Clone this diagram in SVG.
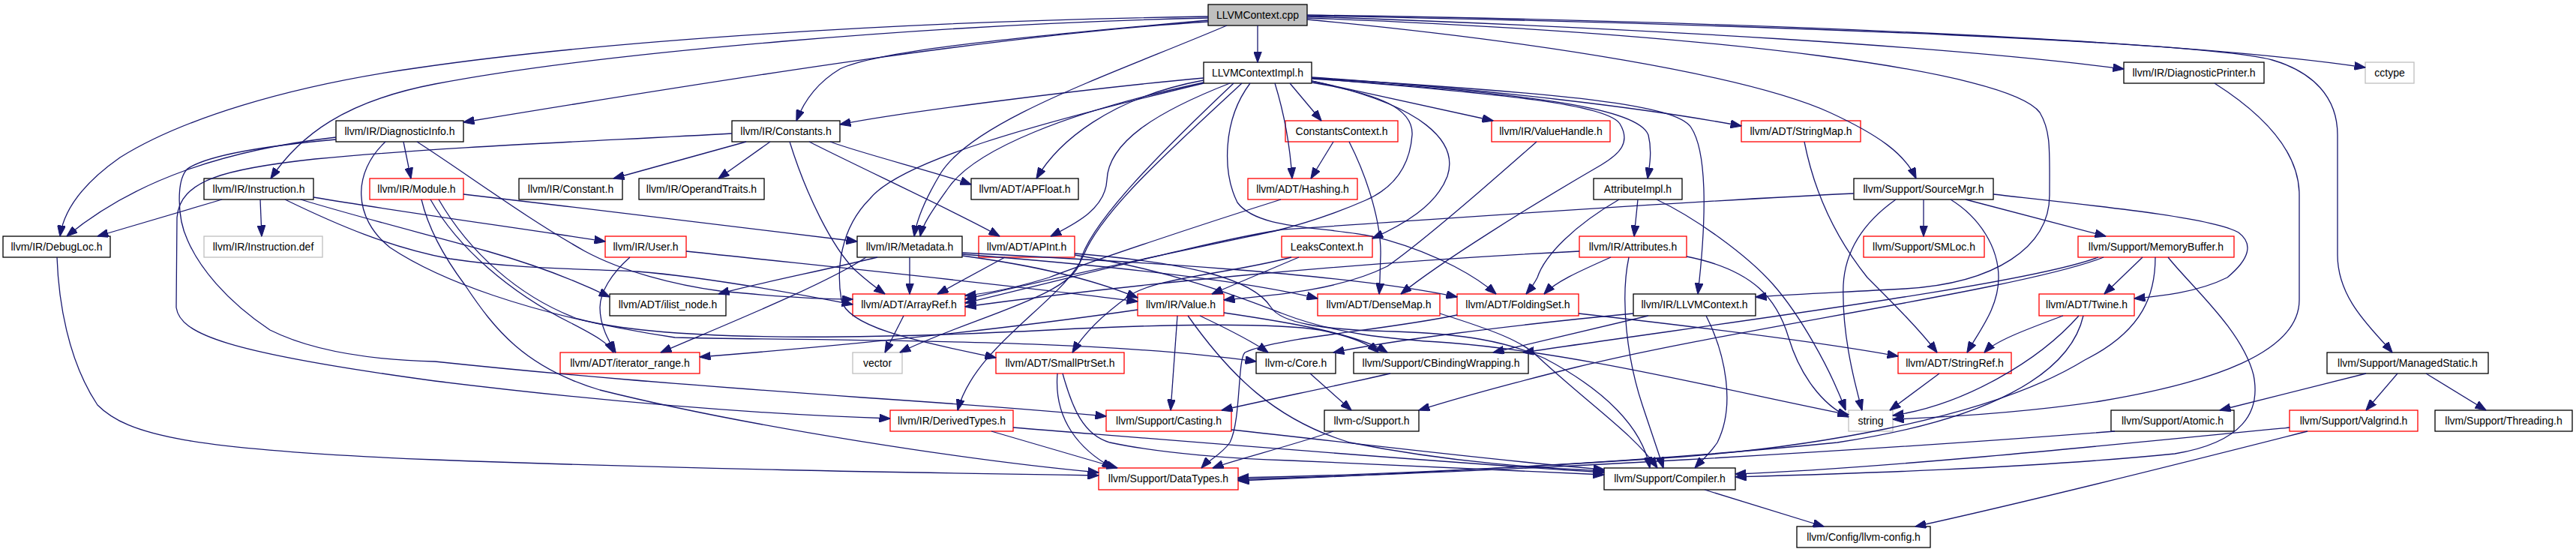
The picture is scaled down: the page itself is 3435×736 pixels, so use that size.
<svg xmlns="http://www.w3.org/2000/svg" width="3435" height="736" viewBox="0 0 3435 736">
<style>
.n rect{fill:#fff;stroke:#000;stroke-width:1.3}
.n.r rect{stroke:#f00}
.n.x rect{stroke:#bfbfbf}
.n.root rect{fill:#bfbfbf}
.n text{font-family:"Liberation Sans",Arial,Helvetica,sans-serif;font-size:14px;text-anchor:middle;fill:#000}
#edges path{fill:none;stroke:#191970;stroke-width:1.3;marker-end:url(#ah)}
</style>
<defs>
<marker id="ah" markerWidth="15" markerHeight="11" refX="14.5" refY="5.5" orient="auto" markerUnits="userSpaceOnUse"><path d="M0,0 L15,5.5 L0,11 z" fill="#191970" stroke="#191970" stroke-width="1"/></marker>
</defs>
<rect x="0" y="0" width="3435" height="736" fill="#fff"/>
<g id="nodes">
<g id="n1" class="n root"><rect x="1611" y="6" width="132" height="28"/><text x="1677" y="25">LLVMContext.cpp</text></g>
<g id="n2" class="n"><rect x="1605" y="83" width="144" height="28"/><text x="1677" y="102">LLVMContextImpl.h</text></g>
<g id="n3" class="n"><rect x="448" y="161" width="170" height="28"/><text x="533" y="180">llvm/IR/DiagnosticInfo.h</text></g>
<g id="n4" class="n"><rect x="976" y="161" width="144" height="28"/><text x="1048" y="180">llvm/IR/Constants.h</text></g>
<g id="n5" class="n r"><rect x="1714" y="161" width="150" height="28"/><text x="1789" y="180">ConstantsContext.h</text></g>
<g id="n6" class="n r"><rect x="1989" y="161" width="158" height="28"/><text x="2068" y="180">llvm/IR/ValueHandle.h</text></g>
<g id="n7" class="n r"><rect x="2322" y="161" width="159" height="28"/><text x="2401.5" y="180">llvm/ADT/StringMap.h</text></g>
<g id="n8" class="n"><rect x="2832" y="83" width="187" height="28"/><text x="2925.5" y="102">llvm/IR/DiagnosticPrinter.h</text></g>
<g id="n9" class="n x"><rect x="3154" y="83" width="65" height="28"/><text x="3186.5" y="102">cctype</text></g>
<g id="n10" class="n"><rect x="272" y="238" width="146" height="28"/><text x="345" y="257">llvm/IR/Instruction.h</text></g>
<g id="n11" class="n r"><rect x="493" y="238" width="125" height="28"/><text x="555.5" y="257">llvm/IR/Module.h</text></g>
<g id="n12" class="n"><rect x="692" y="238" width="138" height="28"/><text x="761" y="257">llvm/IR/Constant.h</text></g>
<g id="n13" class="n"><rect x="852" y="238" width="167" height="28"/><text x="935.5" y="257">llvm/IR/OperandTraits.h</text></g>
<g id="n14" class="n"><rect x="1295" y="238" width="143" height="28"/><text x="1366.5" y="257">llvm/ADT/APFloat.h</text></g>
<g id="n15" class="n r"><rect x="1664" y="238" width="146" height="28"/><text x="1737" y="257">llvm/ADT/Hashing.h</text></g>
<g id="n16" class="n"><rect x="2125" y="238" width="118" height="28"/><text x="2184" y="257">AttributeImpl.h</text></g>
<g id="n17" class="n"><rect x="2472" y="238" width="186" height="28"/><text x="2565" y="257">llvm/Support/SourceMgr.h</text></g>
<g id="n18" class="n"><rect x="4" y="315" width="143" height="28"/><text x="75.5" y="334">llvm/IR/DebugLoc.h</text></g>
<g id="n19" class="n x"><rect x="272" y="315" width="158" height="28"/><text x="351" y="334">llvm/IR/Instruction.def</text></g>
<g id="n20" class="n r"><rect x="807" y="315" width="108" height="28"/><text x="861" y="334">llvm/IR/User.h</text></g>
<g id="n21" class="n"><rect x="1143" y="315" width="140" height="28"/><text x="1213" y="334">llvm/IR/Metadata.h</text></g>
<g id="n22" class="n r"><rect x="1305" y="315" width="128" height="28"/><text x="1369" y="334">llvm/ADT/APInt.h</text></g>
<g id="n23" class="n r"><rect x="1709" y="315" width="121" height="28"/><text x="1769.5" y="334">LeaksContext.h</text></g>
<g id="n24" class="n r"><rect x="2106" y="315" width="143" height="28"/><text x="2177.5" y="334">llvm/IR/Attributes.h</text></g>
<g id="n25" class="n r"><rect x="2485" y="315" width="161" height="28"/><text x="2565.5" y="334">llvm/Support/SMLoc.h</text></g>
<g id="n26" class="n r"><rect x="2771" y="315" width="208" height="28"/><text x="2875" y="334">llvm/Support/MemoryBuffer.h</text></g>
<g id="n27" class="n"><rect x="813" y="392" width="155" height="29"/><text x="890.5" y="411">llvm/ADT/ilist_node.h</text></g>
<g id="n28" class="n r"><rect x="1137" y="392" width="150" height="29"/><text x="1212" y="411">llvm/ADT/ArrayRef.h</text></g>
<g id="n29" class="n r"><rect x="1517" y="392" width="115" height="29"/><text x="1574.5" y="411">llvm/IR/Value.h</text></g>
<g id="n30" class="n r"><rect x="1757" y="392" width="163" height="29"/><text x="1838.5" y="411">llvm/ADT/DenseMap.h</text></g>
<g id="n31" class="n r"><rect x="1943" y="392" width="162" height="29"/><text x="2024" y="411">llvm/ADT/FoldingSet.h</text></g>
<g id="n32" class="n"><rect x="2178" y="392" width="163" height="29"/><text x="2259.5" y="411">llvm/IR/LLVMContext.h</text></g>
<g id="n33" class="n r"><rect x="2719" y="392" width="127" height="29"/><text x="2782.5" y="411">llvm/ADT/Twine.h</text></g>
<g id="n34" class="n r"><rect x="747" y="470" width="186" height="28"/><text x="840" y="489">llvm/ADT/iterator_range.h</text></g>
<g id="n35" class="n x"><rect x="1137" y="470" width="66" height="28"/><text x="1170" y="489">vector</text></g>
<g id="n36" class="n r"><rect x="1328" y="470" width="171" height="28"/><text x="1413.5" y="489">llvm/ADT/SmallPtrSet.h</text></g>
<g id="n37" class="n"><rect x="1675" y="470" width="106" height="28"/><text x="1728" y="489">llvm-c/Core.h</text></g>
<g id="n38" class="n"><rect x="1805" y="470" width="233" height="28"/><text x="1921.5" y="489">llvm/Support/CBindingWrapping.h</text></g>
<g id="n39" class="n r"><rect x="2531" y="470" width="151" height="28"/><text x="2606.5" y="489">llvm/ADT/StringRef.h</text></g>
<g id="n40" class="n"><rect x="3103" y="470" width="215" height="28"/><text x="3210.5" y="489">llvm/Support/ManagedStatic.h</text></g>
<g id="n41" class="n r"><rect x="1187" y="547" width="164" height="28"/><text x="1269" y="566">llvm/IR/DerivedTypes.h</text></g>
<g id="n42" class="n r"><rect x="1475" y="547" width="167" height="28"/><text x="1558.5" y="566">llvm/Support/Casting.h</text></g>
<g id="n43" class="n"><rect x="1766" y="547" width="126" height="28"/><text x="1829" y="566">llvm-c/Support.h</text></g>
<g id="n44" class="n x"><rect x="2465" y="547" width="59" height="28"/><text x="2494.5" y="566">string</text></g>
<g id="n45" class="n"><rect x="2815" y="547" width="164" height="28"/><text x="2897" y="566">llvm/Support/Atomic.h</text></g>
<g id="n46" class="n r"><rect x="3053" y="547" width="171" height="28"/><text x="3138.5" y="566">llvm/Support/Valgrind.h</text></g>
<g id="n47" class="n"><rect x="3247" y="547" width="183" height="28"/><text x="3338.5" y="566">llvm/Support/Threading.h</text></g>
<g id="n48" class="n r"><rect x="1465" y="624" width="186" height="29"/><text x="1558" y="643">llvm/Support/DataTypes.h</text></g>
<g id="n49" class="n"><rect x="2139" y="624" width="175" height="29"/><text x="2226.5" y="643">llvm/Support/Compiler.h</text></g>
<g id="n50" class="n"><rect x="2396" y="702" width="178" height="28"/><text x="2485" y="721">llvm/Config/llvm-config.h</text></g>
</g>
<g id="edges">
<path d="M1677,34 L1677,83"/>
<path d="M1636,34 C1480,100 1300,160 1255,230 C1232,268 1222,295 1219,315"/>
<path d="M1611,27 C1350,50 1170,68 1120,92 C1090,110 1072,135 1062,161"/>
<path d="M1611,29 C1350,45 1000,100 618,163"/>
<path d="M1611,22 C1200,28 800,55 560,90 C380,115 240,160 160,210 C110,245 85,280 80,315"/>
<path d="M1611,24 C1250,32 800,70 580,112 C460,135 400,180 361,238"/>
<path d="M1743,26 C2050,55 2330,100 2440,150 C2505,180 2540,205 2555,238"/>
<path d="M1743,24 C2300,45 2680,95 2720,150 C2735,175 2733,200 2733,260 C2733,330 2660,378 2540,385 C2450,390 2400,392 2341,396"/>
<path d="M1743,22 C2200,38 2600,62 2832,92"/>
<path d="M1743,20 C2300,28 2900,52 3154,90"/>
<path d="M1743,21 C2400,33 2950,58 3030,80 C3085,96 3117,130 3117,180 L3117,340 C3117,400 3165,440 3190,470"/>
<path d="M1605,104 C1450,118 1200,150 1120,166"/>
<path d="M1605,107 C1480,130 1410,190 1382,238"/>
<path d="M1640,111 C1540,150 1478,190 1476,240 C1474,280 1430,300 1401,315"/>
<path d="M1605,110 C1420,150 1300,200 1265,250 C1242,282 1230,300 1227,315"/>
<path d="M1749,110 C1840,125 1885,145 1883,180 C1880,220 1860,250 1821,267 C1780,285 1740,298 1700,308 C1620,325 1450,360 1287,399"/>
<path d="M1749,104 C1950,122 2140,135 2160,165 C2175,190 2160,205 2135,220 C2040,275 1920,350 1868,392"/>
<path d="M1667,111 C1630,160 1630,230 1650,270 C1680,310 1780,300 1850,320 C1920,340 1970,370 1995,392"/>
<path d="M1700,111 C1712,150 1720,190 1723,238"/>
<path d="M1605,111 C1380,165 1200,215 1160,265 C1120,305 1115,360 1122,400 C1130,440 1250,460 1328,477"/>
<path d="M1749,103 C2000,120 2200,145 2322,168"/>
<path d="M1720,111 L1762,161"/>
<path d="M1749,108 C1900,140 1945,190 1930,235 C1915,275 1870,300 1830,318"/>
<path d="M1749,105 C2050,125 2185,145 2198,180 C2203,200 2200,220 2197,238"/>
<path d="M1749,108 L1991,161"/>
<path d="M1749,104 C2100,125 2235,140 2255,170 C2275,200 2277,280 2264,392"/>
<path d="M1656,111 C1560,200 1470,280 1445,340 C1420,400 1300,460 1277,547"/>
<path d="M1645,111 C1540,210 1452,300 1440,350 C1428,395 1290,425 1200,470"/>
<path d="M995,189 L818,238"/>
<path d="M1027,189 L958,238"/>
<path d="M1107,189 C1150,205 1250,230 1295,246"/>
<path d="M1079,189 C1150,225 1280,285 1333,315"/>
<path d="M1053,189 C1075,260 1110,330 1140,360 C1160,378 1170,385 1180,392"/>
<path d="M976,178 C800,188 600,195 420,212 C300,225 240,240 236,290 L235,410 C240,445 300,470 580,508 C800,535 1000,552 1187,558"/>
<path d="M1778,189 L1748,238"/>
<path d="M1799,189 C1825,240 1842,300 1841,340 C1840,370 1840,380 1839,392"/>
<path d="M2049,189 C1980,250 1900,320 1850,355 C1780,390 1680,395 1632,400"/>
<path d="M2406,189 C2420,260 2450,320 2490,370 C2530,410 2560,440 2583,470"/>
<path d="M2953,111 C3030,160 3066,210 3066,260 L3066,400 C3066,470 2950,510 2800,535 C2700,550 2600,556 2524,559"/>
<path d="M448,183 C300,200 180,240 89,315"/>
<path d="M538,189 L548,238"/>
<path d="M448,186 C370,193 280,205 250,225 C235,240 236,290 250,320 C265,355 300,400 360,440 C420,470 500,480 580,482 C750,500 900,512 1150,530 C1300,540 1400,548 1475,555"/>
<path d="M556,189 C620,230 700,290 780,335 C830,362 900,380 960,388 C1040,396 1100,399 1137,399"/>
<path d="M514,189 C470,230 470,290 520,330 C580,370 700,420 900,450 C1100,455 1450,450 1675,482"/>
<path d="M296,266 L130,315"/>
<path d="M347,266 L349,315"/>
<path d="M418,263 C550,285 700,305 807,322"/>
<path d="M401,266 C480,290 560,310 650,335 C720,355 770,375 813,396"/>
<path d="M380,266 C450,300 520,330 600,345 C700,360 780,358 850,362 C950,370 1080,395 1137,406"/>
<path d="M618,259 C800,280 1000,305 1143,322"/>
<path d="M574,266 C610,330 680,390 760,430 C795,448 812,458 818,470"/>
<path d="M562,266 C570,300 590,340 620,380 C660,440 700,490 800,520 C1000,570 1300,615 1465,630"/>
<path d="M585,266 C625,335 690,395 770,425 C900,460 1200,450 1400,440 C1550,432 1700,430 1760,440 C1800,448 1825,458 1838,470"/>
<path d="M1213,343 L1213,392"/>
<path d="M1170,343 C1100,360 1000,380 958,392"/>
<path d="M1155,343 C1100,380 950,440 881,470"/>
<path d="M1283,341 C1350,350 1440,365 1517,397"/>
<path d="M1283,339 C1450,352 1650,372 1757,398"/>
<path d="M1283,337 C1500,348 1800,365 1943,396"/>
<path d="M915,335 C1100,355 1350,380 1517,402"/>
<path d="M840,343 C815,365 800,390 800,410 C800,435 812,455 821,470"/>
<path d="M1340,343 L1250,392"/>
<path d="M1433,338 C1580,350 1670,370 1695,410 C1708,430 1760,440 1860,442 C1950,445 2010,455 2060,478 C2140,520 2190,570 2200,624"/>
<path d="M1433,340 C1560,360 1650,395 1710,418 C1780,445 1850,452 1932,457 C2100,470 2300,520 2465,553"/>
<path d="M1708,266 C1600,300 1450,350 1399,370 C1350,385 1310,392 1287,394"/>
<path d="M2184,266 L2179,315"/>
<path d="M2159,266 C2100,300 2060,340 2050,370 C2045,380 2040,386 2035,392"/>
<path d="M2209,266 C2260,290 2330,340 2365,380 C2400,420 2440,490 2461,547"/>
<path d="M2472,258 C2250,268 1950,290 1710,306 C1620,320 1450,365 1287,404"/>
<path d="M2528,266 C2480,300 2460,340 2458,380 C2456,440 2470,500 2483,547"/>
<path d="M2565,266 L2565,315"/>
<path d="M2601,266 C2640,290 2665,330 2665,370 C2665,410 2640,440 2623,470"/>
<path d="M2621,266 L2808,315"/>
<path d="M2658,259 C2800,275 2950,290 2985,310 C3005,325 3000,345 2970,370 C2930,390 2880,395 2846,398"/>
<path d="M1570,421 L1561,547"/>
<path d="M1600,421 C1640,440 1670,455 1691,470"/>
<path d="M1632,417 C1720,430 1810,445 1850,470"/>
<path d="M1584,421 C1640,500 1700,560 1800,590 C1950,620 2080,625 2139,628"/>
<path d="M1517,413 C1400,430 1200,455 933,476"/>
<path d="M1732,343 L1616,392"/>
<path d="M1722,343 C1640,365 1540,370 1505,395 C1470,420 1445,445 1430,470"/>
<path d="M2106,335 C1800,350 1500,380 1287,409"/>
<path d="M2148,343 C2110,360 2075,375 2059,392"/>
<path d="M2172,343 C2160,400 2170,480 2190,540 C2205,585 2212,605 2218,624"/>
<path d="M2249,342 C2340,360 2370,400 2385,450 C2400,500 2430,540 2465,556"/>
<path d="M2178,418 C2000,435 1850,455 1778,470"/>
<path d="M2198,421 L1991,470"/>
<path d="M2275,421 C2300,470 2315,540 2290,590 C2280,605 2268,615 2260,624"/>
<path d="M2751,421 C2700,440 2660,455 2646,470"/>
<path d="M2772,421 C2720,480 2620,540 2524,554"/>
<path d="M2778,421 C2760,500 2650,560 2450,590 C2200,615 1900,632 1651,637"/>
<path d="M2857,343 L2806,392"/>
<path d="M2798,343 C2700,380 2300,430 2031,470"/>
<path d="M2805,343 C2700,385 2300,440 2100,490 C2000,515 1930,535 1892,547"/>
<path d="M2874,343 C2874,390 2860,440 2780,480 C2650,560 2400,600 2200,612 C2000,625 1800,635 1651,641"/>
<path d="M2891,343 C2920,380 2990,440 3005,500 C3015,550 2990,590 2900,605 C2700,625 2450,632 2314,636"/>
<path d="M2820,575 C2500,600 2000,630 1651,639"/>
<path d="M3053,570 C2800,595 2500,625 2314,632"/>
<path d="M3077,575 C2900,620 2700,670 2554,702"/>
<path d="M3155,498 L2960,547"/>
<path d="M3197,498 L3155,547"/>
<path d="M3235,498 L3315,547"/>
<path d="M2273,653 L2432,702"/>
<path d="M1778,575 C1720,595 1650,612 1617,624"/>
<path d="M1747,498 L1802,547"/>
<path d="M1854,498 C1780,515 1680,535 1629,547"/>
<path d="M1642,573 C1800,590 2000,615 2139,626"/>
<path d="M1322,575 L1490,624"/>
<path d="M1351,570 C1600,590 1900,615 2139,630"/>
<path d="M1410,498 C1405,560 1440,600 1484,624"/>
<path d="M1417,498 C1430,545 1445,580 1480,590 C1550,605 1650,612 1720,614 C1900,622 2050,628 2139,633"/>
<path d="M76,343 C78,400 90,480 130,540 C170,580 250,600 580,613 C900,625 1200,630 1465,634"/>
<path d="M2105,418 C2300,440 2450,460 2531,475"/>
<path d="M1943,420 C1850,440 1700,450 1660,470 C1650,480 1655,560 1640,590 C1630,605 1610,615 1602,624"/>
<path d="M2586,498 L2520,547"/>
<path d="M1920,418 C1990,440 2030,455 2050,475 C2120,540 2180,580 2210,624"/>
<path d="M1205,421 L1180,470"/>
</g>
</svg>
